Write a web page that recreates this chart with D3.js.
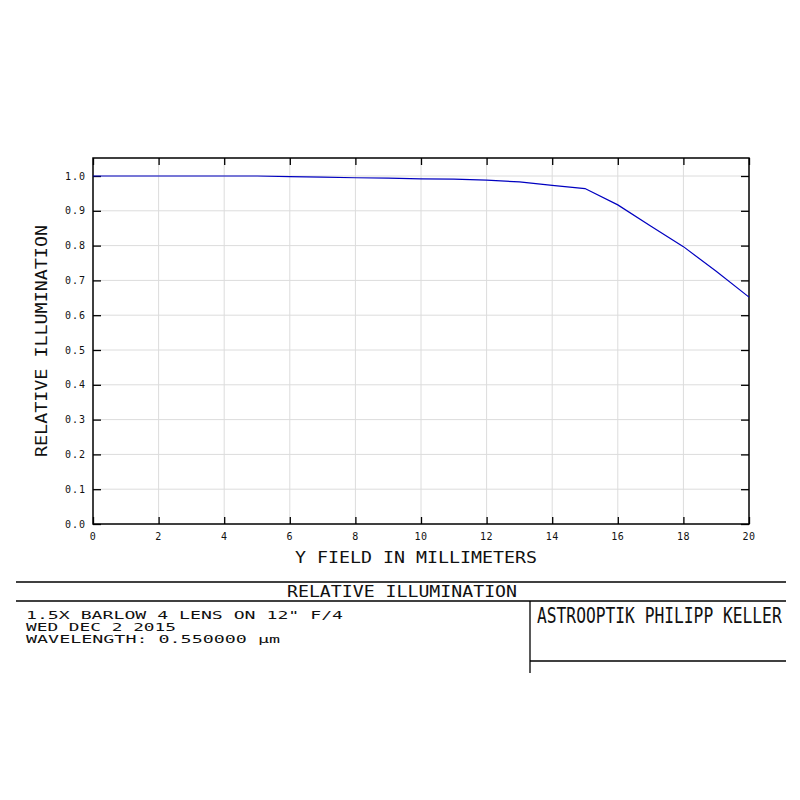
<!DOCTYPE html>
<html><head><meta charset="utf-8">
<script src="https://cdn.jsdelivr.net/npm/d3@7"></script>
<style>body{margin:0;background:#fff}svg{display:block}</style>
</head><body>
<svg id="c" width="800" height="800"></svg>
<script>
const field = [0, 1, 2, 3, 4, 5, 6, 7, 8, 9, 10, 11, 12, 13, 14, 15, 16, 17, 18, 19, 20];
const illum = [1.0, 1.0, 1.0, 1.0, 1.0, 1.0, 0.998, 0.997, 0.995, 0.994, 0.992, 0.991, 0.988, 0.983, 0.973, 0.964, 0.917, 0.856, 0.797, 0.726, 0.652];
const xTicks = [0, 2, 4, 6, 8, 10, 12, 14, 16, 18, 20];
const yTicks = [0.0, 0.1, 0.2, 0.3, 0.4, 0.5, 0.6, 0.7, 0.8, 0.9, 1.0];
const title = "RELATIVE ILLUMINATION";
const xLabel = "Y FIELD IN MILLIMETERS";
const yLabel = "RELATIVE ILLUMINATION";
const infoLines = ["1.5X BARLOW 4 LENS ON 12\" F/4", "WED DEC 2 2015", "WAVELENGTH: 0.550000 \u00b5m"];
const company = "ASTROOPTIK PHILIPP KELLER";

const svg = d3.select("#c");
const L = 93, R = 749, T = 158, B = 524;
const x = d3.scaleLinear().domain([0, 20]).range([L, R]);
const y = d3.scaleLinear().domain([0, 1]).range([B, 176]);
const font = "'DejaVu Sans Mono', monospace";
const ink = "#111";

// grid
svg.append("g").selectAll("line").data(xTicks.slice(1, -1)).join("line")
  .attr("x1", d => x(d)).attr("x2", d => x(d)).attr("y1", T).attr("y2", B)
  .attr("stroke", "#dcdcdc").attr("stroke-width", 1);
svg.append("g").selectAll("line").data(yTicks.slice(1)).join("line")
  .attr("x1", L).attr("x2", R).attr("y1", d => y(d)).attr("y2", d => y(d))
  .attr("stroke", "#dcdcdc").attr("stroke-width", 1);

// axes with inward ticks
const ax = (g, a) => { g.call(a); g.select(".domain").remove(); g.selectAll("text").remove(); g.selectAll("line").attr("stroke", "#000").attr("stroke-width", 1.3); };
svg.append("g").attr("transform", `translate(0,${B})`).call(g => ax(g, d3.axisTop(x).tickValues(xTicks).tickSize(7)));
svg.append("g").attr("transform", `translate(0,${T})`).call(g => ax(g, d3.axisBottom(x).tickValues(xTicks).tickSize(7)));
svg.append("g").attr("transform", `translate(${L},0)`).call(g => ax(g, d3.axisRight(y).tickValues(yTicks).tickSize(8)));
svg.append("g").attr("transform", `translate(${R},0)`).call(g => ax(g, d3.axisLeft(y).tickValues(yTicks).tickSize(8)));

// tick labels
svg.append("g").selectAll("text").data(xTicks).join("text")
  .attr("x", d => x(d)).attr("y", 540).attr("text-anchor", "middle")
  .attr("font-family", font).attr("font-size", 10).attr("letter-spacing", 0.5).attr("fill", ink)
  .text(d => d);
svg.append("g").selectAll("text").data(yTicks).join("text")
  .attr("x", 86).attr("y", d => y(d) + 3.5).attr("text-anchor", "end")
  .attr("font-family", font).attr("font-size", 10).attr("letter-spacing", 1).attr("fill", ink)
  .text(d => d.toFixed(1));

// frame
svg.append("rect").attr("x", L).attr("y", T).attr("width", R - L).attr("height", B - T)
  .attr("fill", "none").attr("stroke", "#000").attr("stroke-width", 1.5);

// curve
svg.append("path").datum(field.map((f, i) => [f, illum[i]]))
  .attr("d", d3.line().x(d => x(d[0])).y(d => y(d[1])))
  .attr("fill", "none").attr("stroke", "#0000c0").attr("stroke-width", 1.2);

// axis labels
svg.append("text").attr("x", 416).attr("y", 563).attr("text-anchor", "middle")
  .attr("font-family", font).attr("font-size", 15).attr("fill", ink)
  .attr("textLength", 242).attr("lengthAdjust", "spacingAndGlyphs")
  .text(xLabel);
svg.append("text").attr("transform", "translate(47,341) rotate(-90)").attr("text-anchor", "middle")
  .attr("font-family", font).attr("font-size", 15).attr("fill", ink)
  .attr("textLength", 232).attr("lengthAdjust", "spacingAndGlyphs")
  .text(yLabel);

// title block
const blk = svg.append("g").attr("stroke", "#000").attr("stroke-width", 1.3);
blk.append("line").attr("x1", 16).attr("x2", 786).attr("y1", 582).attr("y2", 582);
blk.append("line").attr("x1", 16).attr("x2", 786).attr("y1", 601).attr("y2", 601);
blk.append("line").attr("x1", 530).attr("x2", 530).attr("y1", 601).attr("y2", 673);
blk.append("line").attr("x1", 530).attr("x2", 786).attr("y1", 661).attr("y2", 661);

svg.append("text").attr("x", 402).attr("y", 596.5).attr("text-anchor", "middle")
  .attr("font-family", font).attr("font-size", 15).attr("fill", ink)
  .attr("textLength", 230).attr("lengthAdjust", "spacingAndGlyphs")
  .text(title);
const infoW = [317, 150, 254];
svg.append("g").selectAll("text").data(infoLines).join("text")
  .attr("x", 26).attr("y", (d, i) => 618.5 + i * 12.3)
  .attr("font-family", font).attr("font-size", 10.5).attr("fill", ink)
  .attr("textLength", (d, i) => infoW[i]).attr("lengthAdjust", "spacingAndGlyphs")
  .text(d => d);
// company name: condensed by horizontal scaling
svg.append("text").attr("transform", "translate(537,623) scale(0.775,1)")
  .attr("font-family", font).attr("font-size", 21).attr("fill", ink)
  .text(company);
</script>
</body></html>
